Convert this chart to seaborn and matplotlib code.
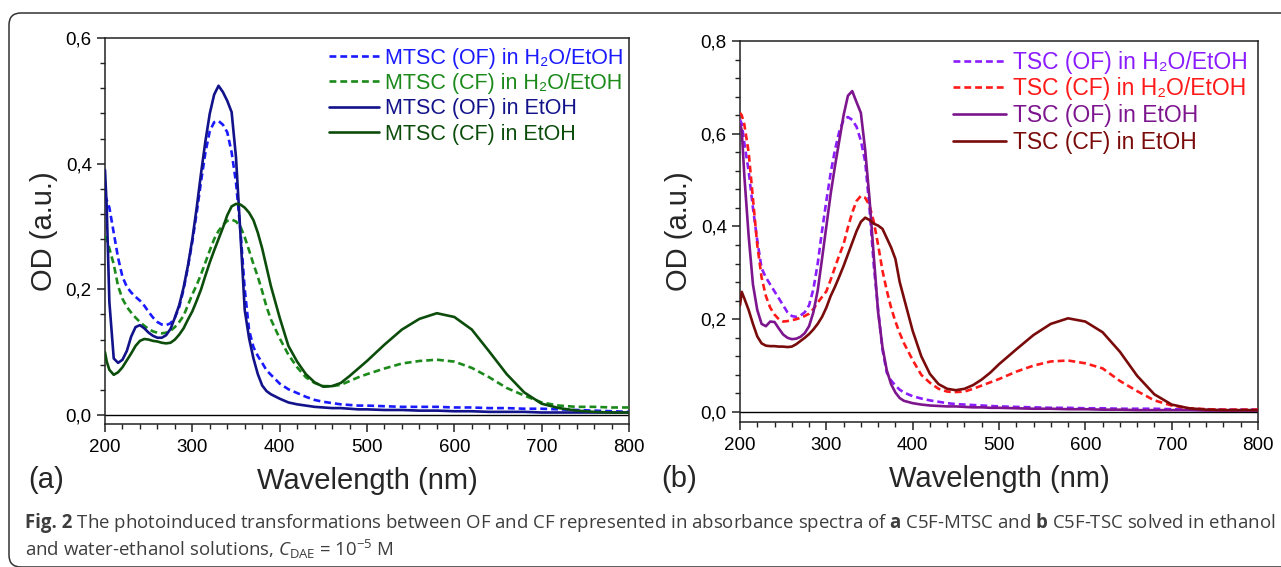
import numpy as np
import pandas as pd
import matplotlib
matplotlib.use("Agg")
import matplotlib.pyplot as plt
import seaborn as sns
from matplotlib.patches import FancyBboxPatch
from matplotlib.ticker import MultipleLocator, FuncFormatter

# ---------------- data ----------------
wavelength = [200, 202, 205, 210, 215, 220, 225, 230, 235, 240, 245, 250, 255, 260, 265,
              270, 275, 280, 285, 290, 295, 300, 305, 310, 315, 320, 325, 330, 335, 340,
              345, 350, 355, 360, 365, 370, 375, 380, 385, 390, 400, 410, 420, 430, 440,
              450, 460, 470, 480, 490, 500, 520, 540, 560, 580, 600, 620, 640, 660, 680,
              700, 720, 740, 760, 780, 800]

# panel (a)  C5F-MTSC
mtsc_of_h2o = [0.350, 0.342, 0.330, 0.290, 0.250, 0.220, 0.204, 0.195, 0.188, 0.182, 0.174, 0.164, 0.155, 0.148, 0.144,
               0.143, 0.146, 0.155, 0.172, 0.200, 0.236, 0.276, 0.322, 0.372, 0.418, 0.452, 0.466, 0.468, 0.462, 0.450,
               0.418, 0.370, 0.295, 0.200, 0.135, 0.108, 0.094, 0.083, 0.071, 0.064, 0.050, 0.041, 0.035, 0.029, 0.024,
               0.021, 0.019, 0.017, 0.016, 0.015, 0.015, 0.014, 0.013, 0.013, 0.013, 0.012, 0.012, 0.011, 0.011, 0.010,
               0.010, 0.009, 0.008, 0.007, 0.006, 0.005]
mtsc_cf_h2o = [0.285, 0.280, 0.265, 0.240, 0.205, 0.185, 0.172, 0.163, 0.155, 0.148, 0.142, 0.137, 0.133, 0.131, 0.130,
               0.131, 0.134, 0.140, 0.148, 0.158, 0.175, 0.192, 0.207, 0.224, 0.243, 0.262, 0.280, 0.293, 0.302, 0.309,
               0.311, 0.308, 0.300, 0.283, 0.262, 0.240, 0.220, 0.197, 0.172, 0.152, 0.122, 0.096, 0.076, 0.060, 0.051,
               0.046, 0.046, 0.048, 0.054, 0.060, 0.065, 0.074, 0.082, 0.086, 0.088, 0.085, 0.075, 0.060, 0.043, 0.031,
               0.020, 0.015, 0.013, 0.013, 0.012, 0.012]
mtsc_of_etoh = [0.390, 0.330, 0.180, 0.090, 0.083, 0.088, 0.102, 0.125, 0.140, 0.143, 0.138, 0.131, 0.126, 0.123, 0.123,
                0.127, 0.137, 0.155, 0.175, 0.203, 0.238, 0.280, 0.330, 0.385, 0.436, 0.480, 0.510, 0.524, 0.514, 0.500,
                0.482, 0.410, 0.290, 0.167, 0.122, 0.090, 0.065, 0.047, 0.038, 0.033, 0.026, 0.020, 0.017, 0.015, 0.013,
                0.012, 0.011, 0.011, 0.010, 0.009, 0.009, 0.008, 0.008, 0.007, 0.007, 0.006, 0.006, 0.005, 0.005, 0.005,
                0.004, 0.004, 0.004, 0.004, 0.004, 0.004]
mtsc_cf_etoh = [0.100, 0.085, 0.072, 0.064, 0.068, 0.076, 0.087, 0.098, 0.110, 0.118, 0.121, 0.120, 0.118, 0.117, 0.115,
                0.114, 0.115, 0.120, 0.128, 0.138, 0.152, 0.165, 0.182, 0.200, 0.222, 0.243, 0.262, 0.280, 0.298, 0.318,
                0.332, 0.336, 0.335, 0.330, 0.322, 0.310, 0.290, 0.265, 0.235, 0.205, 0.155, 0.110, 0.085, 0.065, 0.052,
                0.045, 0.046, 0.051, 0.062, 0.074, 0.086, 0.112, 0.136, 0.153, 0.162, 0.156, 0.136, 0.101, 0.065, 0.036,
                0.018, 0.011, 0.007, 0.005, 0.004, 0.004]

# panel (b)  C5F-TSC
tsc_of_h2o = [0.630, 0.622, 0.580, 0.520, 0.440, 0.370, 0.310, 0.290, 0.275, 0.260, 0.245, 0.230, 0.215, 0.207, 0.205,
              0.208, 0.215, 0.230, 0.265, 0.320, 0.390, 0.455, 0.515, 0.565, 0.605, 0.630, 0.636, 0.630, 0.615, 0.585,
              0.540, 0.440, 0.315, 0.220, 0.135, 0.085, 0.068, 0.057, 0.048, 0.042, 0.034, 0.029, 0.025, 0.022, 0.019,
              0.017, 0.016, 0.015, 0.014, 0.013, 0.012, 0.011, 0.010, 0.009, 0.009, 0.008, 0.008, 0.007, 0.007, 0.007,
              0.006, 0.006, 0.006, 0.005, 0.005, 0.005]
tsc_cf_h2o = [0.645, 0.640, 0.620, 0.560, 0.460, 0.360, 0.290, 0.250, 0.225, 0.210, 0.200, 0.195, 0.196, 0.198, 0.200,
              0.203, 0.207, 0.212, 0.222, 0.236, 0.248, 0.260, 0.285, 0.312, 0.338, 0.362, 0.398, 0.430, 0.455, 0.466,
              0.462, 0.445, 0.410, 0.360, 0.305, 0.262, 0.225, 0.195, 0.170, 0.148, 0.112, 0.080, 0.063, 0.050, 0.044,
              0.043, 0.044, 0.050, 0.057, 0.064, 0.071, 0.087, 0.100, 0.109, 0.111, 0.105, 0.094, 0.067, 0.045, 0.025,
              0.014, 0.008, 0.006, 0.005, 0.005, 0.005]
tsc_of_etoh = [0.620, 0.608, 0.510, 0.380, 0.275, 0.220, 0.190, 0.185, 0.195, 0.194, 0.180, 0.167, 0.160, 0.157, 0.158,
               0.162, 0.170, 0.185, 0.215, 0.262, 0.330, 0.400, 0.470, 0.530, 0.585, 0.640, 0.682, 0.692, 0.668, 0.645,
               0.565, 0.460, 0.335, 0.215, 0.140, 0.090, 0.060, 0.042, 0.030, 0.024, 0.019, 0.016, 0.014, 0.013, 0.012,
               0.012, 0.011, 0.010, 0.010, 0.009, 0.009, 0.008, 0.007, 0.007, 0.006, 0.006, 0.005, 0.005, 0.004, 0.004,
               0.004, 0.004, 0.003, 0.003, 0.003, 0.003]
tsc_cf_etoh = [0.230, 0.259, 0.245, 0.220, 0.190, 0.163, 0.148, 0.143, 0.142, 0.142, 0.141, 0.141, 0.140, 0.141, 0.146,
               0.153, 0.160, 0.168, 0.178, 0.190, 0.205, 0.225, 0.250, 0.270, 0.292, 0.315, 0.340, 0.365, 0.390, 0.410,
               0.419, 0.414, 0.406, 0.402, 0.395, 0.375, 0.355, 0.330, 0.280, 0.245, 0.175, 0.120, 0.082, 0.060, 0.050,
               0.047, 0.050, 0.058, 0.070, 0.085, 0.103, 0.135, 0.166, 0.190, 0.202, 0.195, 0.172, 0.130, 0.078, 0.038,
               0.016, 0.008, 0.005, 0.004, 0.004, 0.004]

labels_a = ["MTSC (OF) in H\u2082O/EtOH", "MTSC (CF) in H\u2082O/EtOH",
            "MTSC (OF) in EtOH", "MTSC (CF) in EtOH"]
labels_b = ["TSC (OF) in H\u2082O/EtOH", "TSC (CF) in H\u2082O/EtOH",
            "TSC (OF) in EtOH", "TSC (CF) in EtOH"]
xticks = [200, 300, 400, 500, 600, 700, 800]
yticks_a = [0.0, 0.2, 0.4, 0.6]
yticks_b = [0.0, 0.2, 0.4, 0.6, 0.8]

# ---------------- style ----------------
sns.set_theme(style="ticks")
plt.rcParams['font.family'] = ['Liberation Sans', 'DejaVu Sans']
plt.rcParams['mathtext.fontset'] = 'custom'
plt.rcParams['mathtext.rm'] = 'Open Sans'
plt.rcParams['mathtext.it'] = 'Open Sans:italic'
plt.rcParams['mathtext.bf'] = 'Open Sans:bold'

W, H = 1281, 567
fig = plt.figure(figsize=(W / 100, H / 100), dpi=100)
fig.patch.set_facecolor('white')

# rounded frame around the figure
frame = FancyBboxPatch((9, 0), 1320, 554, boxstyle="round,pad=0,rounding_size=12",
                       transform=None, fill=False, edgecolor='#333333', linewidth=1.1)
fig.patches.append(frame)

ax_a = fig.add_axes([105 / W, 1 - 424 / H, 524 / W, 386 / H])
ax_b = fig.add_axes([740 / W, 1 - 422 / H, 518 / W, 381 / H])

dash = (0, (2.6, 1.5))
colors_a = ['#1a1aff', '#1b8a1b', '#12128a', '#0c4d0c']
colors_b = ['#8a1cff', '#ff1a1a', '#7d168e', '#7a0b0b']
styles = [dash, dash, '-', '-']

def panel(ax, series, labels, colors, ylim, yticks, legend_anchor, leg_fs, leg_sp):
    for ys, lab, col, ls in zip(series, labels, colors, styles):
        sns.lineplot(x=wavelength, y=ys, ax=ax, color=col, linestyle=ls,
                     linewidth=1.9, label=lab, sort=True, zorder=3)
    ax.axhline(0, color='black', linewidth=1.0, zorder=2)
    ax.set_xlim(200, 800)
    ax.set_ylim(*ylim)
    ax.set_xticks(xticks)
    ax.set_yticks(yticks)
    ax.xaxis.set_minor_locator(MultipleLocator(20))
    ax.yaxis.set_minor_locator(MultipleLocator(0.04))
    ax.yaxis.set_major_formatter(FuncFormatter(lambda v, p: f"{v:.1f}".replace('.', ',')))
    ax.tick_params(which='major', direction='out', length=6, width=1.1, labelsize=13.5,
                   bottom=True, left=True, top=False, right=False, colors='#222222', labelcolor='black')
    ax.tick_params(axis='x', which='major', pad=5)
    ax.tick_params(which='minor', direction='out', length=3.5, width=1.0,
                   bottom=True, left=True, top=False, right=False, colors='#222222')
    for s in ax.spines.values():
        s.set_visible(True)
        s.set_linewidth(1.1)
        s.set_color('#222222')
    ax.set_xlabel('Wavelength (nm)', fontsize=21, labelpad=8)
    ax.set_ylabel('OD (a.u.)', fontsize=21)
    leg = ax.legend(loc='upper right', bbox_to_anchor=legend_anchor, frameon=False, fontsize=leg_fs,
                    handlelength=2.3, handletextpad=0.3, labelspacing=leg_sp, borderaxespad=0.0,
                    borderpad=0.0)
    for txt, col in zip(leg.get_texts(), colors):
        txt.set_color(col)

panel(ax_a, [mtsc_of_h2o, mtsc_cf_h2o, mtsc_of_etoh, mtsc_cf_etoh], labels_a, colors_a,
      (-0.0143, 0.6), yticks_a, (0.99, 0.975), 15.5, 0.2)
panel(ax_b, [tsc_of_h2o, tsc_cf_h2o, tsc_of_etoh, tsc_cf_etoh], labels_b, colors_b,
      (-0.0216, 0.8), yticks_b, (0.98, 0.975), 16.5, 0.17)
ax_a.yaxis.set_label_coords(-0.089, 0.5)
ax_b.yaxis.set_label_coords(-0.090, 0.5)

fig.text(46 / W, 1 - 480 / H, '(a)', fontsize=21, ha='center', va='center')
fig.text(679 / W, 1 - 479 / H, '(b)', fontsize=21, ha='center', va='center')

# ---------------- caption ----------------
cap_color = '#3d3d3d'
x0 = 25
y1 = 1 - 523 / H
y2 = 1 - 549 / H
fs = 13
tf = fig.text(x0 / W, y1, "Fig. 2", fontsize=fs, family='Open Sans', weight='bold',
              color=cap_color, ha='left', va='center')
rest1 = (r" The photoinduced transformations between OF and CF represented in "
         r"absorbance spectra of $\mathbf{a}$ C5F-MTSC and $\mathbf{b}$ C5F-TSC solved in ethanol")
line2 = r"and water-ethanol solutions, $C_{\mathrm{DAE}}$ = 10$^{-5}$ M"
t1 = fig.text(0, y1, rest1, fontsize=fs, family='Open Sans', color=cap_color,
              ha='left', va='center')
t2 = fig.text(x0 / W, y2, line2, fontsize=fs, family='Open Sans', color=cap_color,
              ha='left', va='center')
fig.canvas.draw()
r = fig.canvas.get_renderer()
total = tf.get_window_extent(r).width + t1.get_window_extent(r).width
scale = (1276 - x0) / total
fs2 = fs * scale
for t in (tf, t1, t2):
    t.set_fontsize(fs2)
fig.canvas.draw()
wf = tf.get_window_extent(r).width
t1.set_position(((x0 + wf) / W, y1))

fig.savefig('out.png', dpi=100, facecolor='white')
